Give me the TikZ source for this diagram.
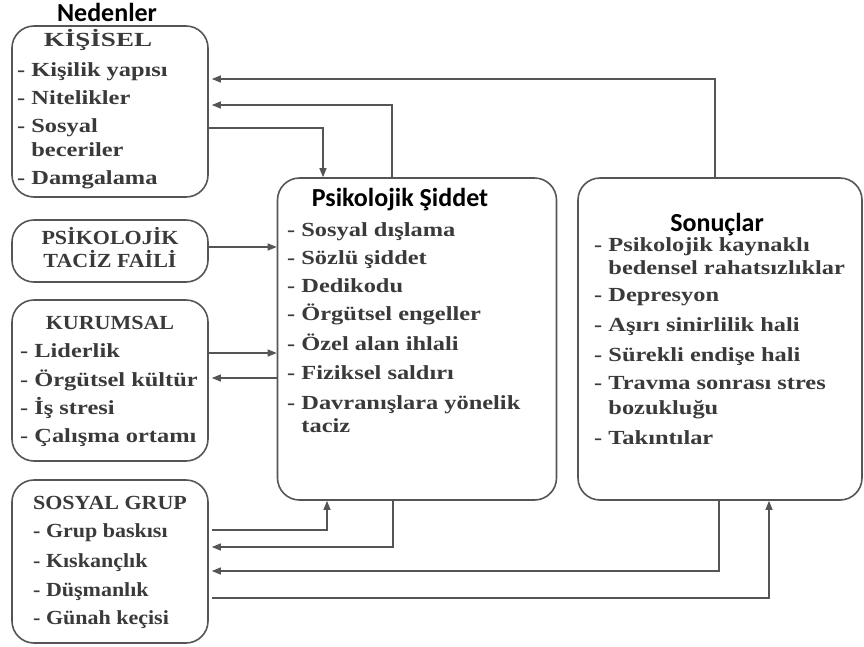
\documentclass[tikz,border=0pt]{standalone}
\usepackage{fontspec}
\setmainfont{Liberation Serif}
\newfontfamily\bodyfont[FakeStretch=1.22]{Liberation Serif}
\newfontfamily\narrowfont[FakeStretch=1.1]{Liberation Serif}
\newfontfamily\widefont[FakeStretch=1.35]{Liberation Serif}
\newfontfamily\headfont{Carlito}
\usetikzlibrary{arrows.meta}
\definecolor{txt}{HTML}{3A3A3A}
\definecolor{ln}{HTML}{555555}
\begin{document}
\begin{tikzpicture}[x=1pt,y=-1pt,
  box/.style={draw=ln, line width=1.6pt, rounded corners=22pt, inner sep=0pt},
  item/.style={anchor=west, inner sep=0pt, text=txt, font=\bodyfont\bfseries\fontsize{20}{22}\selectfont, text height=12pt, text depth=4pt},
  sitem/.style={item, font=\narrowfont\bfseries\fontsize{20}{22}\selectfont},
  ttl/.style={anchor=center, inner sep=0pt, text=txt, font=\narrowfont\bfseries\fontsize{20}{22}\selectfont, text height=12pt, text depth=4pt},
  head/.style={anchor=center, inner sep=0pt, font=\headfont\bfseries\fontsize{26}{28}\selectfont, text height=17pt, text depth=5pt},
  arr/.style={draw=ln, line width=1.3pt, -{Triangle[length=9pt,width=7pt]}}
]
\useasboundingbox (0,0) rectangle (864,646);

% boxes
\node[box, minimum width=196pt, minimum height=171pt] (kis) at (110,111.5) {};
\node[box, minimum width=196pt, minimum height=62pt] (fail) at (110,251) {};
\node[box, minimum width=196pt, minimum height=161pt] (kur) at (110,380.5) {};
\node[box, minimum width=196pt, minimum height=163pt] (sos) at (110,561.5) {};
\node[box, minimum width=279pt, minimum height=322pt] (psi) at (417,339) {};
\node[box, minimum width=284pt, minimum height=322pt] (son) at (720,339) {};

% headings
\node[head] (ned) at (107,15) {Nedenler};
\node[head] (psit) at (400,200) {Psikolojik Şiddet};
\node[head] (sont) at (717,225) {Sonuçlar};

% KISISEL
\node[ttl, font=\widefont\bfseries\fontsize{20}{22}\selectfont] (kist) at (98,42) {KİŞİSEL};
\node[item] (kis1) at (17,72) {- Kişilik yapısı};
\node[item] (kis2) at (17,100) {- Nitelikler};
\node[item] (kis3) at (17,128) {- Sosyal};
\node[item] (kis4) at (17,152) {\hphantom{- }beceriler};
\node[item] (kis5) at (17,180) {- Damgalama};

% FAIL
\node[ttl] (fail1) at (110,240) {PSİKOLOJİK};
\node[ttl] (fail2) at (110,263) {TACİZ FAİLİ};

% KURUMSAL
\node[ttl] (kurt) at (110,325) {KURUMSAL};
\node[item] (kur1) at (20,353) {- Liderlik};
\node[item] (kur2) at (20,382) {- Örgütsel kültür};
\node[item] (kur3) at (20,410) {- İş stresi};
\node[item] (kur4) at (20,438) {- Çalışma ortamı};

% SOSYAL GRUP
\node[ttl] (sost) at (110,505) {SOSYAL GRUP};
\node[sitem] (sos1) at (33,533) {- Grup baskısı};
\node[sitem] (sos2) at (33,563) {- Kıskançlık};
\node[sitem] (sos3) at (33,592) {- Düşmanlık};
\node[sitem] (sos4) at (33,620) {- Günah keçisi};

% PSIKOLOJIK SIDDET
\node[item] (psi1) at (287,232) {- Sosyal dışlama};
\node[item] (psi2) at (287,260) {- Sözlü şiddet};
\node[item] (psi3) at (287,288) {- Dedikodu};
\node[item] (psi4) at (287,316) {- Örgütsel engeller};
\node[item] (psi5) at (287,346) {- Özel alan ihlali};
\node[item] (psi6) at (287,375) {- Fiziksel saldırı};
\node[item] (psi7) at (287,405) {- Davranışlara yönelik};
\node[item] (psi8) at (287,428) {\hphantom{- }taciz};

% SONUCLAR
\node[item] (son1) at (594,247) {- Psikolojik kaynaklı};
\node[item] (son2) at (594,270) {\hphantom{- }bedensel rahatsızlıklar};
\node[item] (son3) at (594,297) {- Depresyon};
\node[item] (son4) at (594,327) {- Aşırı sinirlilik hali};
\node[item] (son5) at (594,357) {- Sürekli endişe hali};
\node[item] (son6) at (594,385) {- Travma sonrası stres};
\node[item] (son7) at (594,410) {\hphantom{- }bozukluğu};
\node[item] (son8) at (594,440) {- Takıntılar};

% connectors
\draw[arr, shorten >=3pt] (son.north -| 715,0) |- (kis.east |- 0,79);
\draw[arr, shorten >=3pt] (psi.north -| 392,0) |- (kis.east |- 0,105);
\draw[arr] (kis.east |- 0,128) -| (psi.north -| 323,0);
\draw[arr] (fail.east |- 0,247) -- (psi.west |- 0,247);
\draw[arr] (kur.east |- 0,353) -- (psi.west |- 0,353);
\draw[arr, shorten >=3pt] (psi.west |- 0,378) -- (kur.east |- 0,378);
\draw[arr, shorten <=3pt] (sos.east |- 0,530) -| (psi.south -| 327,0);
\draw[arr, shorten >=3pt] (psi.south -| 393,0) |- (sos.east |- 0,547);
\draw[arr, shorten >=3pt] (son.south -| 719,0) |- (sos.east |- 0,571);
\draw[arr, shorten <=3pt] (sos.east |- 0,598) -| (son.south -| 769,0);
\end{tikzpicture}
\end{document}
